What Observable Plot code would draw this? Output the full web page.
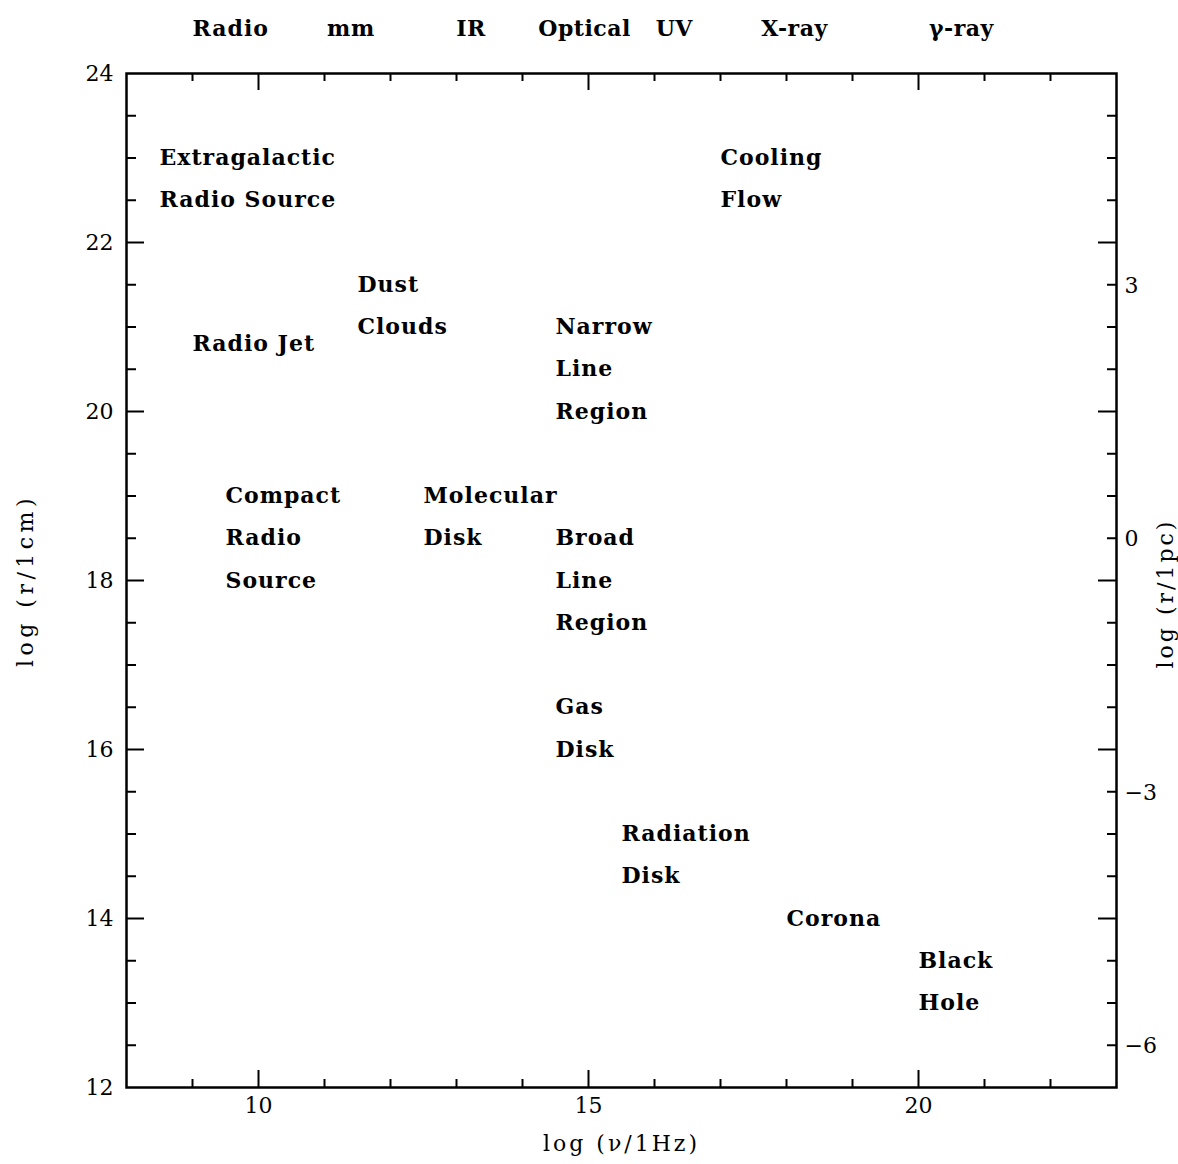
<!DOCTYPE html>
<html><head><meta charset="utf-8">
<script src="https://cdn.jsdelivr.net/npm/d3@7"></script>
<script src="https://cdn.jsdelivr.net/npm/@observablehq/plot@0.6"></script>
<style>body{margin:0;background:#fff}</style>
</head><body><div id="chart"></div>
<script>
// Tick values
const xMajor = [10, 15, 20];
const xMinor = [9, 11, 12, 13, 14, 16, 17, 18, 19, 21, 22];
const yMajor = [14, 16, 18, 20, 22];
const yMinor = [12.5, 13, 13.5, 14.5, 15, 15.5, 16.5, 17, 17.5, 18.5, 19, 19.5, 20.5, 21, 21.5, 22.5, 23, 23.5];
const yLabels = [12, 14, 16, 18, 20, 22, 24];
const pcLabels = [3, 0, -3, -6];
const pcOffset = Math.log10(3.086e18); // log(1 pc / 1 cm)

// Axis titles
const xTitle = "log (ν/1Hz)";
const yTitle = "log (r/1cm)";
const y2Title = "log (r/1pc)";

// Spectral band labels along the top
const bandNames = ["Radio", "mm", "IR", "Optical", "UV", "X-ray", "γ-ray"];
const bandX = [9.58, 11.4, 13.22, 14.94, 16.3, 18.12, 20.65];

// Region annotations (one entry per text line)
const annText = ["Extragalactic", "Radio Source", "Cooling", "Flow", "Dust", "Clouds", "Radio Jet",
  "Narrow", "Line", "Region", "Compact", "Radio", "Source", "Molecular", "Disk",
  "Broad", "Line", "Region", "Gas", "Disk", "Radiation", "Disk", "Corona", "Black", "Hole"];
const annX = [8.5, 8.5, 17, 17, 11.5, 11.5, 9, 14.5, 14.5, 14.5, 9.5, 9.5, 9.5, 12.5, 12.5,
  14.5, 14.5, 14.5, 14.5, 14.5, 15.5, 15.5, 18, 20, 20];
const annY = [23, 22.5, 23, 22.5, 21.5, 21, 20.8, 21, 20.5, 20, 19, 18.5, 18, 19, 18.5,
  18.5, 18, 17.5, 16.5, 16, 15, 14.5, 14, 13.5, 13];

const W = 1178, H = 1164;
const mL = 126, mR = 62, mT = 73, mB = 77;
const iW = W - mL - mR, iH = H - mT - mB;
const tk = {stroke: "black", strokeWidth: 2};
const serif = "DejaVu Serif";

const chart = Plot.plot({
  width: W, height: H,
  marginLeft: mL, marginRight: mR, marginTop: mT, marginBottom: mB,
  x: {domain: [8, 23], axis: null},
  y: {domain: [12, 24], axis: null},
  style: {background: "white", color: "black"},
  marks: [
    // bottom & top ticks
    Plot.tickX(xMajor, {x: d => d, insetTop: iH - 17, ...tk}),
    Plot.tickX(xMinor, {x: d => d, insetTop: iH - 8, ...tk}),
    Plot.tickX(xMajor, {x: d => d, insetBottom: iH - 17, ...tk}),
    Plot.tickX(xMinor, {x: d => d, insetBottom: iH - 8, ...tk}),
    // left & right ticks
    Plot.tickY(yMajor, {y: d => d, insetRight: iW - 18, ...tk}),
    Plot.tickY(yMinor, {y: d => d, insetRight: iW - 10, ...tk}),
    Plot.tickY(yMajor, {y: d => d, insetLeft: iW - 18, ...tk}),
    Plot.tickY(yMinor, {y: d => d, insetLeft: iW - 9, ...tk}),
    Plot.frame({stroke: "black", strokeWidth: 2.5}),
    // tick labels
    Plot.text(xMajor, {x: d => d, frameAnchor: "bottom", dy: 25, text: d => String(d), fontSize: 22, fontFamily: serif}),
    Plot.text(yLabels, {y: d => d, frameAnchor: "left", dx: -13, textAnchor: "end", text: d => String(d), fontSize: 22, fontFamily: serif}),
    Plot.text(pcLabels, {y: d => d + pcOffset, frameAnchor: "right", dx: 8, textAnchor: "start",
      text: d => d < 0 ? "\u2212" + (-d) : String(d), fontSize: 22, fontFamily: serif}),
    // axis titles
    Plot.text([xTitle], {frameAnchor: "bottom", dy: 63, textAnchor: "middle", text: d => d, fontSize: 22, fontFamily: serif}),
    Plot.text([yTitle], {frameAnchor: "left", dx: -101, rotate: -90, textAnchor: "middle", text: d => d, fontSize: 22, fontFamily: serif}),
    Plot.text([y2Title], {frameAnchor: "right", dx: 49, dy: 13, rotate: -90, textAnchor: "middle", text: d => d, fontSize: 22, fontFamily: serif}),
    // band labels
    Plot.text(bandNames, {x: (d, i) => bandX[i], frameAnchor: "top", dy: -53, text: d => d, fontSize: 22, fontWeight: "bold", fontFamily: serif}),
    // annotations
    Plot.text(annText, {x: (d, i) => annX[i], y: (d, i) => annY[i], text: d => d, textAnchor: "start", fontSize: 22, fontWeight: "bold", fontFamily: serif})
  ]
});
document.getElementById("chart").append(chart);
// letter spacing tweaks
d3.select(chart).selectAll("text").each(function() {
  const t = this.textContent;
  if (t === yTitle) this.style.letterSpacing = "4.5px";
  else if (t === xTitle || t === y2Title) this.style.letterSpacing = "3px";
  else if (annText.includes(t)) this.style.letterSpacing = "1px";
  else if (bandNames.includes(t)) this.style.letterSpacing = "0.5px";
});
</script>
</body></html>
